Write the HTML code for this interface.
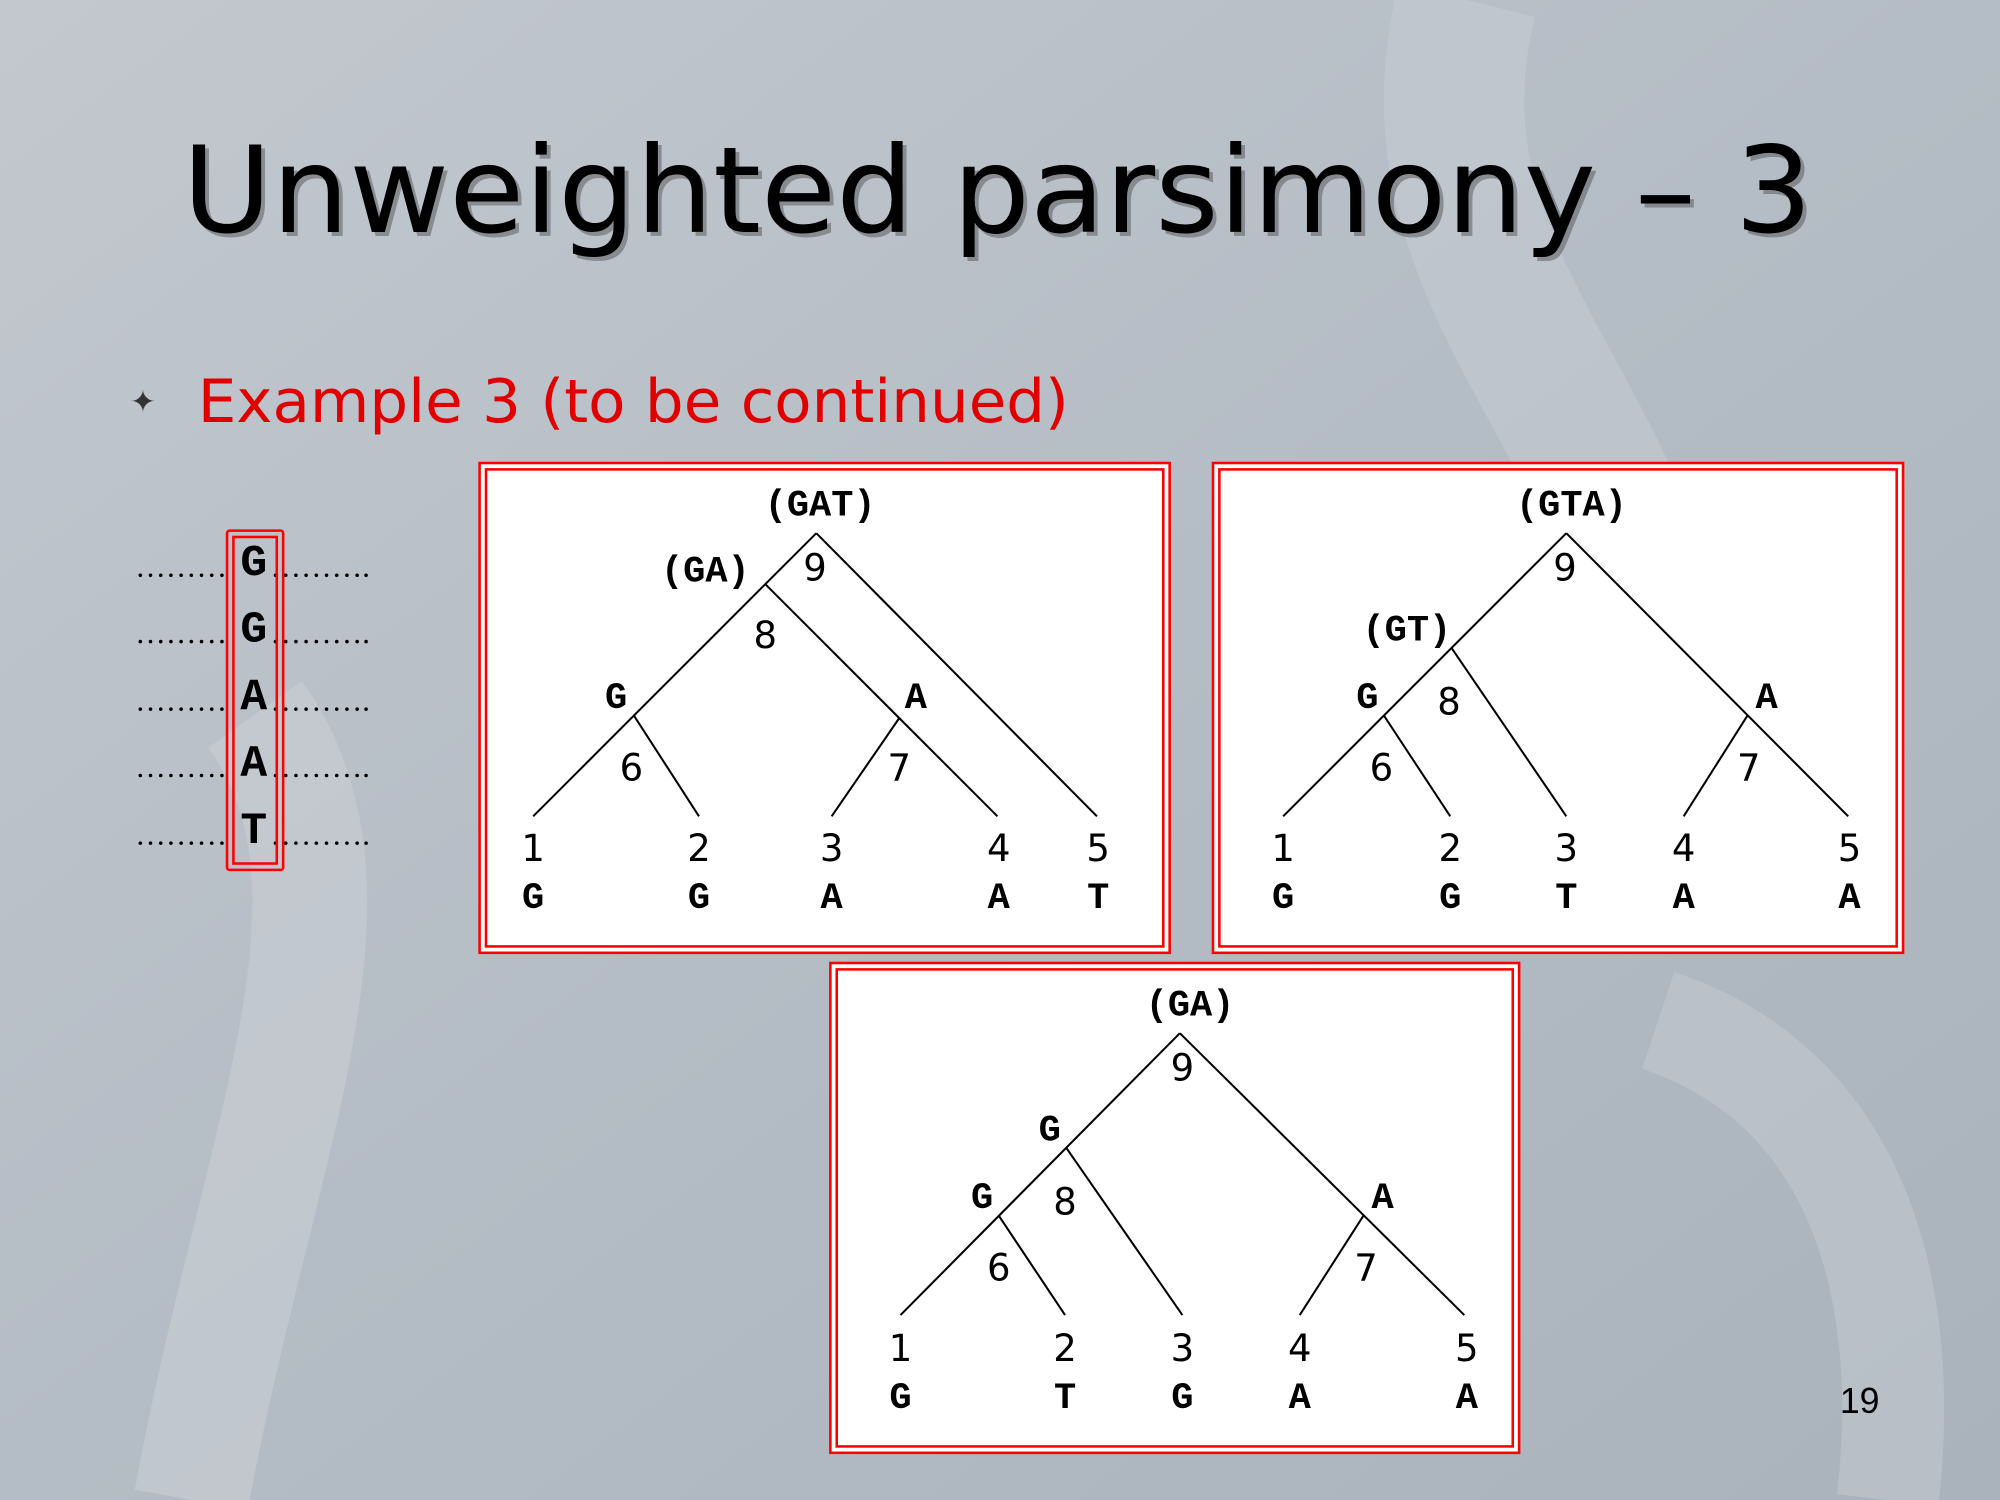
<!DOCTYPE html>
<html><head><meta charset="utf-8"><style>
html,body{margin:0;padding:0;width:2000px;height:1500px;overflow:hidden}
svg{display:block}
.m{font-family:"Liberation Mono","Courier New",monospace;font-weight:bold;font-size:29px;fill:#000;text-anchor:middle}
.n{font-family:"DejaVu Sans","Liberation Sans",sans-serif;font-size:29px;fill:#000;text-anchor:middle}
line{stroke:#000;stroke-width:1.6}
</style></head><body>
<svg width="2000" height="1500" viewBox="0 0 1568 1176" xmlns="http://www.w3.org/2000/svg">
<defs>
<linearGradient id="bg" x1="0" y1="0" x2="1" y2="1">
<stop offset="0" stop-color="#c3c8ce"/><stop offset="0.5" stop-color="#b4bcc5"/><stop offset="1" stop-color="#aab2bc"/>
</linearGradient>
</defs>
<rect width="1568" height="1176" fill="url(#bg)"/>
<path d="M150 1176 C200 900 300 700 200 560" stroke="#c9ced4" stroke-width="90" fill="none" opacity="0.6"/>
<path d="M1150 0 C1100 200 1250 300 1300 500" stroke="#c8cdd3" stroke-width="110" fill="none" opacity="0.5"/>
<path d="M1300 800 C1450 850 1500 1000 1480 1176" stroke="#c6cbd1" stroke-width="80" fill="none" opacity="0.5"/>

<text x="146" y="185" font-family="DejaVu Sans,sans-serif" font-size="94" fill="#555" opacity="0.5" textLength="1278" lengthAdjust="spacingAndGlyphs">Unweighted parsimony – 3</text>
<text x="143" y="182" font-family="DejaVu Sans,sans-serif" font-size="94" fill="#000" textLength="1278" lengthAdjust="spacingAndGlyphs">Unweighted parsimony – 3</text>
<text x="102" y="323" font-family="DejaVu Sans,sans-serif" font-size="24" fill="#333">✦</text>
<text x="155" y="331" font-family="DejaVu Sans,sans-serif" font-size="47" fill="#e00000" textLength="683" lengthAdjust="spacingAndGlyphs">Example 3 (to be continued)</text>
<text x="1458" y="1108" font-family="Liberation Sans,sans-serif" font-size="28" fill="#000" text-anchor="middle">19</text>

<!-- sequences -->
<g fill="#000">
<g id="dots">
<circle cx="110" cy="451" r="1.4"/><circle cx="118" cy="451" r="1.4"/><circle cx="126" cy="451" r="1.4"/><circle cx="134" cy="451" r="1.4"/><circle cx="142" cy="451" r="1.4"/><circle cx="150" cy="451" r="1.4"/><circle cx="158" cy="451" r="1.4"/><circle cx="166" cy="451" r="1.4"/><circle cx="174" cy="451" r="1.4"/>
<circle cx="216" cy="451" r="1.4"/><circle cx="224" cy="451" r="1.4"/><circle cx="232" cy="451" r="1.4"/><circle cx="240" cy="451" r="1.4"/><circle cx="248" cy="451" r="1.4"/><circle cx="256" cy="451" r="1.4"/><circle cx="264" cy="451" r="1.4"/><circle cx="272" cy="451" r="1.4"/><circle cx="280" cy="451" r="1.4"/><circle cx="287" cy="451" r="1.4"/>
</g>
<use href="#dots" y="52"/><use href="#dots" y="105"/><use href="#dots" y="157"/><use href="#dots" y="210"/>
</g>
<text class="m" x="199" y="451" style="font-size:35px">G</text>
<text class="m" x="199" y="503" style="font-size:35px">G</text>
<text class="m" x="199" y="556" style="font-size:35px">A</text>
<text class="m" x="199" y="608" style="font-size:35px">A</text>
<text class="m" x="199" y="661" style="font-size:35px">T</text>
<rect x="178" y="416" width="44" height="266" rx="2" fill="none" stroke="#f00" stroke-width="2"/>
<rect x="183" y="421" width="34" height="256" fill="none" stroke="#f00" stroke-width="2"/>

<!-- panel 1 -->
<rect x="376" y="363" width="541" height="384" fill="#fff" stroke="#f00" stroke-width="2"/>
<rect x="381" y="368" width="531" height="374" fill="none" stroke="#f00" stroke-width="2"/>
<line x1="640" y1="418" x2="418" y2="640"/><line x1="640" y1="418" x2="860" y2="640"/>
<line x1="600" y1="458" x2="782" y2="640"/><line x1="705" y1="563" x2="652" y2="640"/>
<line x1="497" y1="561" x2="548" y2="640"/>
<text class="m" x="643" y="404">(GAT)</text><text class="m" x="553" y="456">(GA)</text>
<text class="n" x="639" y="455">9</text><text class="n" x="600" y="508">8</text>
<text class="m" x="483" y="555">G</text><text class="m" x="718" y="555">A</text>
<text class="n" x="495" y="612">6</text><text class="n" x="705" y="612">7</text>
<g><text class="n" x="418" y="675">1</text><text class="n" x="548" y="675">2</text><text class="n" x="652" y="675">3</text><text class="n" x="783" y="675">4</text><text class="n" x="861" y="675">5</text>
<text class="m" x="418" y="712">G</text><text class="m" x="548" y="712">G</text><text class="m" x="652" y="712">A</text><text class="m" x="783" y="712">A</text><text class="m" x="861" y="712">T</text></g>

<!-- panel 2 -->
<rect x="951" y="363" width="541" height="384" fill="#fff" stroke="#f00" stroke-width="2"/>
<rect x="956" y="368" width="531" height="374" fill="none" stroke="#f00" stroke-width="2"/>
<line x1="1228" y1="418" x2="1006" y2="640"/><line x1="1228" y1="418" x2="1449" y2="640"/>
<line x1="1138" y1="508" x2="1228" y2="640"/><line x1="1085" y1="561" x2="1137" y2="640"/>
<line x1="1370" y1="561" x2="1320" y2="640"/>
<text class="m" x="1232" y="404">(GTA)</text><text class="n" x="1227" y="455">9</text>
<text class="m" x="1103" y="502">(GT)</text><text class="n" x="1136" y="560">8</text>
<text class="m" x="1072" y="555">G</text><text class="n" x="1083" y="612">6</text>
<text class="m" x="1385" y="555">A</text><text class="n" x="1371" y="612">7</text>
<text class="n" x="1006" y="675">1</text><text class="n" x="1137" y="675">2</text><text class="n" x="1228" y="675">3</text><text class="n" x="1320" y="675">4</text><text class="n" x="1450" y="675">5</text>
<text class="m" x="1006" y="712">G</text><text class="m" x="1137" y="712">G</text><text class="m" x="1228" y="712">T</text><text class="m" x="1320" y="712">A</text><text class="m" x="1450" y="712">A</text>

<!-- panel 3 -->
<rect x="651" y="755" width="540" height="384" fill="#fff" stroke="#f00" stroke-width="2"/>
<rect x="656" y="760" width="530" height="374" fill="none" stroke="#f00" stroke-width="2"/>
<line x1="925" y1="810" x2="706" y2="1031"/><line x1="925" y1="810" x2="1148" y2="1031"/>
<line x1="836" y1="900" x2="927" y2="1031"/><line x1="783" y1="953" x2="835" y2="1031"/>
<line x1="1069" y1="953" x2="1019" y2="1031"/>
<text class="m" x="933" y="796">(GA)</text><text class="n" x="927" y="847">9</text>
<text class="m" x="823" y="894">G</text><text class="n" x="835" y="952">8</text>
<text class="m" x="770" y="947">G</text><text class="n" x="783" y="1004">6</text>
<text class="m" x="1084" y="947">A</text><text class="n" x="1071" y="1004">7</text>
<text class="n" x="706" y="1067">1</text><text class="n" x="835" y="1067">2</text><text class="n" x="927" y="1067">3</text><text class="n" x="1019" y="1067">4</text><text class="n" x="1150" y="1067">5</text>
<text class="m" x="706" y="1104">G</text><text class="m" x="835" y="1104">T</text><text class="m" x="927" y="1104">G</text><text class="m" x="1019" y="1104">A</text><text class="m" x="1150" y="1104">A</text>
</svg>
</body></html>
